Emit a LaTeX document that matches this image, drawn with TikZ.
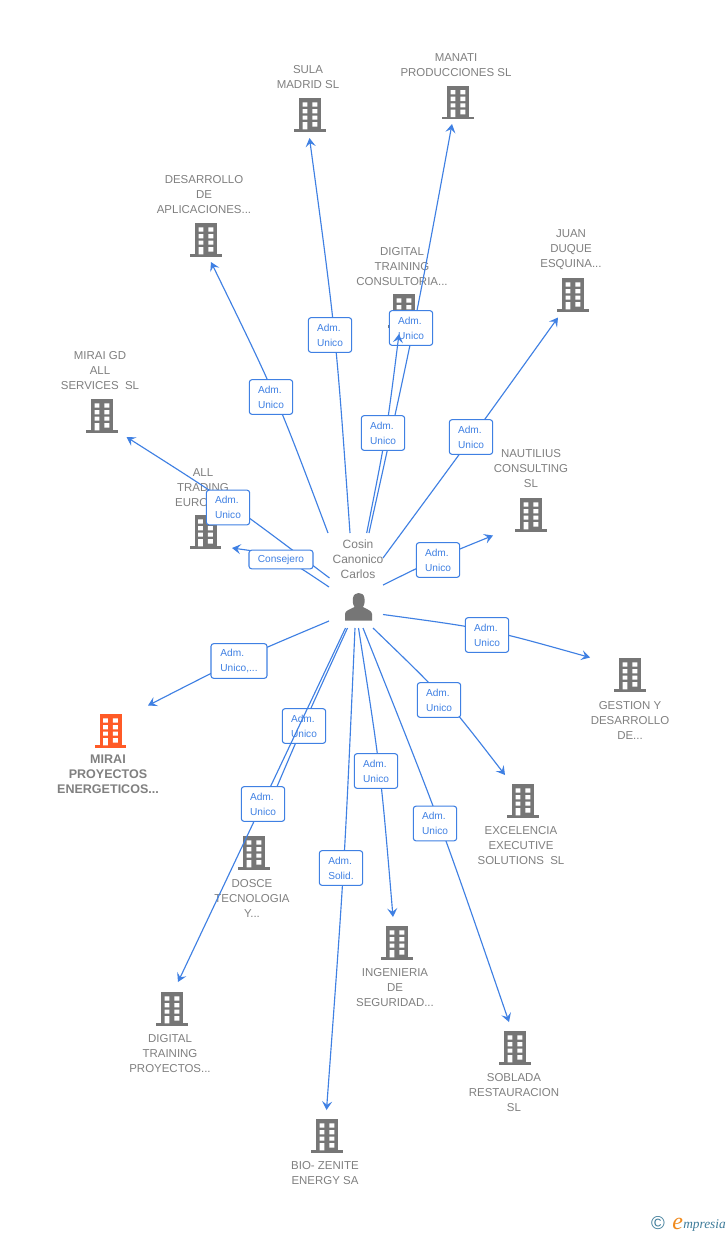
\documentclass[tikz,border=0pt]{standalone}
\usepackage{fontspec}
\setmainfont{Liberation Sans}
\newfontfamily\logoserif{Liberation Serif}
\usetikzlibrary{calc,arrows.meta}
\definecolor{linkblue}{HTML}{3F80E3}
\definecolor{txtgray}{HTML}{808080}
\definecolor{icongray}{HTML}{767676}
\definecolor{iconorange}{HTML}{FF5A26}
\definecolor{logoteal}{HTML}{3E7C9A}
\definecolor{logoorange}{HTML}{F08A1D}
\tikzset{
  conn/.style={draw=linkblue,line width=0.85pt,-{Stealth[length=6.5pt,width=7.5pt,inset=2.6pt]}},
  linkbox/.style={draw=linkblue,line width=0.8pt,fill=white,rounded corners=2pt,text=linkblue,
    minimum width=32.5pt,minimum height=26pt,inner sep=0pt,align=left,
    font=\fontsize{7.6}{11.25}\selectfont},
  wide/.style={minimum width=48pt,minimum height=14pt},
  elabel/.style={text=txtgray,align=center,inner sep=0pt,font=\fontsize{8.6}{11.25}\selectfont},
  mainlabel/.style={elabel,font=\fontsize{9.4}{11.25}\selectfont\bfseries},
  hublabel/.style={text=txtgray,align=center,inner sep=0pt,font=\fontsize{9}{11.25}\selectfont},
  pics/bldg/.style={code={
    \fill[#1] (-11,-16.7) rectangle (11,14.3);
    \fill[#1] (-15.7,14.3) rectangle (15.7,16.7);
    \fill[white]
      (-7.3,-12.7) rectangle (-2.7,-8.3)  (2.4,-12.7) rectangle (7.3,-8.3)
      (-7.3,-6) rectangle (-2.7,-1.7)     (2.4,-6) rectangle (7.3,-1.7)
      (-7.3,0.7) rectangle (-2.7,4.7)     (2.4,0.7) rectangle (7.3,4.7)
      (-7.3,7) rectangle (-2.7,14.3)      (2.4,7) rectangle (7.3,11.7);
  }}
}
% #1 start, #2 point the curve passes at its middle, #3 end
\newcommand{\linkto}[3]{%
  \draw[conn] (#1) .. controls ($(#2)+0.3333*(#2)-0.1667*(#1)-0.1667*(#3)$)
    and ($(#2)+0.3333*(#2)-0.1667*(#1)-0.1667*(#3)$) .. (#3);}
\begin{document}
\begin{tikzpicture}[x=0.75pt,y=-0.75pt]
\useasboundingbox (0,0) rectangle (728,1235);
\fill[white] (0,0) rectangle (728,1235);

% company icons
\pic at (310,115) {bldg=icongray};
\pic at (458,102.7) {bldg=icongray};
\pic at (206,240) {bldg=icongray};
\pic at (404,311) {bldg=icongray};
\pic at (573,295) {bldg=icongray};
\pic at (102,416) {bldg=icongray};
\pic at (205.5,532) {bldg=icongray};
\pic at (531,515) {bldg=icongray};
\pic at (630,675) {bldg=icongray};
\pic at (110.5,731) {bldg=iconorange};
\pic at (254,853) {bldg=icongray};
\pic at (523,801) {bldg=icongray};
\pic at (397,943) {bldg=icongray};
\pic at (172,1009) {bldg=icongray};
\pic at (515,1048) {bldg=icongray};
\pic at (327,1136) {bldg=icongray};

% company labels
\node[elabel] (tsula) at (308,77) {SULA\\MADRID SL};
\node[elabel] (tmanati) at (456,65.5) {MANATI\\PRODUCCIONES SL};
\node[elabel] (tdesa) at (204,195) {DESARROLLO\\DE\\APLICACIONES...};
\node[elabel] (tdtc) at (402,267) {DIGITAL\\TRAINING\\CONSULTORIA...};
\node[elabel] (tjuan) at (571,249.5) {JUAN\\DUQUE\\ESQUINA...};
\node[elabel] (tgd) at (100,371) {MIRAI GD\\ALL\\SERVICES\ \ SL};
\node[elabel] (tall) at (203,488) {ALL\\TRADING\\EURO\hspace*{17pt}};
\node[elabel] (tnau) at (531,469) {NAUTILIUS\\CONSULTING\\SL};
\node[elabel] (tges) at (630,720) {GESTION Y\\DESARROLLO\\DE...};
\node[mainlabel] (tmirai) at (108,774.5) {MIRAI\\PROYECTOS\\ENERGETICOS...};
\node[elabel] (tdos) at (252,898) {DOSCE\\TECNOLOGIA\\Y...};
\node[elabel] (texc) at (521,846) {EXCELENCIA\\EXECUTIVE\\SOLUTIONS\ \ SL};
\node[elabel] (ting) at (395,988) {INGENIERIA\\DE\\SEGURIDAD...};
\node[elabel] (tdtp) at (170,1054) {DIGITAL\\TRAINING\\PROYECTOS...};
\node[elabel] (tsob) at (514,1093) {SOBLADA\\RESTAURACION\\SL};
\node[elabel] (tbio) at (325,1173.5) {BIO- ZENITE\\ENERGY SA};

% hub
\node[hublabel] (hub) at (358,559.5) {Cosin\\Canonico\\Carlos};
\fill[icongray] (345,620.5) -- (345,614) .. controls (345,610.5) and (350,609.5) .. (354.5,607)
  .. controls (352.5,604) and (352.6,600) .. (353,598) .. controls (353.5,594.5) and (356,593) .. (358.7,593)
  .. controls (361.5,593) and (364,594.5) .. (364.4,598) .. controls (364.8,600) and (365,604) .. (363,607)
  .. controls (367,609.5) and (372,610.5) .. (372,614) -- (372,620.5) -- cycle;

% connector ends and the point each curve passes at its middle
\coordinate (s1) at (350,533);    \coordinate (c1) at (334.5,335);    \coordinate (e1) at (309.5,138);
\coordinate (s2) at (369,533);    \coordinate (c2) at (413.5,328);    \coordinate (e2) at (452,124);
\coordinate (s3) at (328,533);    \coordinate (c3) at (275,397);      \coordinate (e3) at (211,262);
\coordinate (s4) at (366.7,533);  \coordinate (c4) at (385.5,434);    \coordinate (e4) at (399,334);
\coordinate (s5) at (383,558);    \coordinate (c5) at (472,437);      \coordinate (e5) at (558,317.5);
\coordinate (s6) at (329.5,578);  \coordinate (c6) at (228,503);      \coordinate (e6) at (126.5,437);
\coordinate (s7) at (329,587);    \coordinate (c7) at (281,558);      \coordinate (e7) at (232,548);
\coordinate (s8) at (383,585);    \coordinate (c8) at (438,558.5);    \coordinate (e8) at (493,535.5);
\coordinate (s9) at (383,614.5);  \coordinate (c9) at (487,630.5);    \coordinate (e9) at (590,657.5);
\coordinate (s10) at (373,628);   \coordinate (c10) at (444,699);     \coordinate (e10) at (505,775);
\coordinate (s11) at (363,628);   \coordinate (c11) at (439,822);     \coordinate (e11) at (509,1022);
\coordinate (s12) at (358.5,628); \coordinate (c12) at (379.5,771);   \coordinate (e12) at (393,917);
\coordinate (s13) at (355,628);   \coordinate (c13) at (343.5,868);   \coordinate (e13) at (326.5,1110);
\coordinate (s14) at (347.5,628); \coordinate (c14) at (304,724);     \coordinate (e14) at (262,822);
\coordinate (s15) at (345.5,628); \coordinate (c15) at (263,804);     \coordinate (e15) at (178,982);
\coordinate (s16) at (329,621);   \coordinate (c16) at (239,660);     \coordinate (e16) at (148,705.5);

% connectors, each with its label on top
\linkto{s1}{c1}{e1}
\node[linkbox] (l1) at (330,335) {Adm.\\Unico};
\linkto{s3}{c3}{e3}
\node[linkbox] (l3) at (271,397) {Adm.\\Unico};
\linkto{s2}{c2}{e2}
\node[linkbox] (l2) at (411,328) {Adm.\\Unico};
\linkto{s4}{c4}{e4}
\node[linkbox] (l4) at (383,433) {Adm.\\Unico};
\linkto{s5}{c5}{e5}
\node[linkbox] (l5) at (471,437) {Adm.\\Unico};
\linkto{s6}{c6}{e6}
\node[linkbox] (l6) at (228,507.5) {Adm.\\Unico};
\linkto{s7}{c7}{e7}
\node[linkbox,wide] (l7) at (281,559.5) {Consejero};
\linkto{s8}{c8}{e8}
\node[linkbox] (l8) at (438,560) {Adm.\\Unico};
\linkto{s9}{c9}{e9}
\node[linkbox] (l9) at (487,635) {Adm.\\Unico};
\linkto{s10}{c10}{e10}
\node[linkbox] (l10) at (439,700) {Adm.\\Unico};
\linkto{s11}{c11}{e11}
\node[linkbox] (l11) at (435,823.5) {Adm.\\Unico};
\linkto{s12}{c12}{e12}
\node[linkbox] (l12) at (376,771) {Adm.\\Unico};
\linkto{s13}{c13}{e13}
\node[linkbox] (l13) at (341,868) {Adm.\\Solid.};
\linkto{s14}{c14}{e14}
\node[linkbox] (l14) at (304,726) {Adm.\\Unico};
\linkto{s15}{c15}{e15}
\node[linkbox] (l15) at (263,804) {Adm.\\Unico};
\linkto{s16}{c16}{e16}
\node[linkbox,minimum width=42pt] (l16) at (239,661) {Adm.\\Unico,...};

% logo
\node[text=logoteal,inner sep=0pt,font=\fontsize{14}{14}\selectfont] (logoc) at (658,1223) {©};
\node[anchor=base west,inner sep=0pt,font=\logoserif\itshape\fontsize{18}{18}\selectfont,text=logoorange] (logoe) at (672,1229) {e};
\node[anchor=base west,inner sep=0pt,font=\logoserif\itshape\fontsize{10}{12}\selectfont,text=logoteal] (logot) at (683,1228) {mpresia};
\end{tikzpicture}
\end{document}
